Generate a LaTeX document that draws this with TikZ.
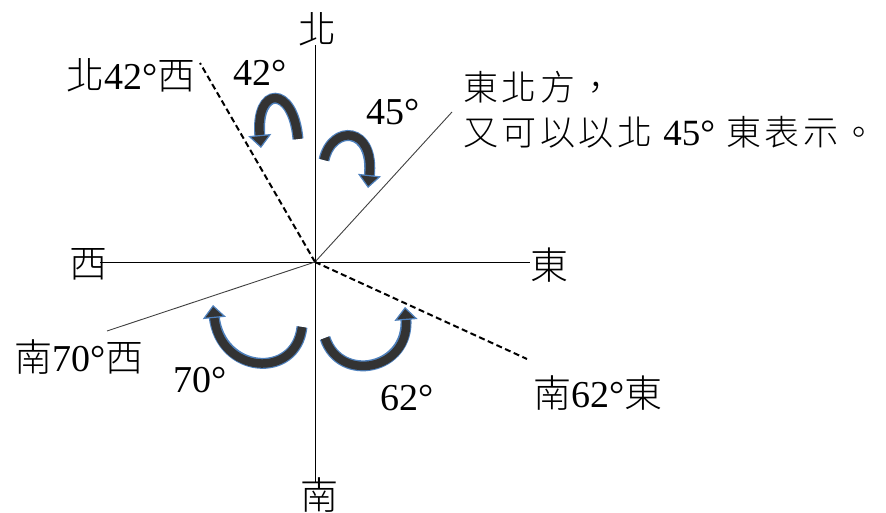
\documentclass[tikz,border=0pt]{standalone}
\usepackage{fontspec}
\setmainfont{Liberation Serif}
\newfontfamily\cjk[LetterSpace=22]{Noto Sans CJK TC Light}
\newfontfamily\cjknote[LetterSpace=10]{Noto Sans CJK TC Light}
\usetikzlibrary{arrows.meta}

\colorlet{turnfill}{black!80}
\definecolor{turnedge}{RGB}{79,129,189}

\tikzset{
  axis/.style={black, line width=1pt},
  ray/.style={black!75, line width=0.9pt},
  dashray/.style={black, line width=2pt, dash pattern=on 6pt off 3.5pt},
  turn/.style={turnfill, line width=8.5pt,
    -{Triangle[length=13pt,width=23pt,color=turnedge,fill=turnfill,line width=1.2pt]},
    preaction={draw=turnedge, line width=11pt, -, shorten >=11pt}},
}

\begin{document}
\begin{tikzpicture}[x=1pt, y=-1pt, every node/.style={inner sep=0pt, font=\fontsize{38}{40}\selectfont}]
\useasboundingbox (0,0) rectangle (886,513);

\coordinate (o) at (315,262);
\coordinate (ne) at (452,112);
\coordinate (nw) at (200,63);
\coordinate (sw) at (107,331);
\coordinate (se) at (527,359);

% compass axes
\node (n) at (317,29) {\cjk 北};
\node (s) at (319,495) {\cjk 南};
\node (w) at (88,264) {\cjk 西};
\node (e) at (549,265) {\cjk 東};
\draw[axis] (o) -- (315,45);
\draw[axis] (o) -- (315,482);
\draw[axis] (o) -- (100,262);
\draw[axis] (o) -- (530,262);

% directions
\draw[ray] (o) -- (ne);
\draw[dashray] (o) -- (nw);
\draw[ray] (o) -- (sw);
\draw[dashray] (o) -- (se);

\node (nwlab) at (131,75) {{\cjk 北}42°{\cjk 西}};
\node (swlab) at (79,357) {{\cjk 南}70°{\cjk 西}};
\node (selab) at (598,393) {{\cjk 南}62°{\cjk 東}};
\node (nelab) [anchor=west, align=left, font=\fontsize{35}{45}\selectfont] at (463,110)
  {\cjknote 東北方，\\ \cjknote 又可以以北 {\rmfamily\fontsize{37}{45}\selectfont 45°} 東表示。};

% angles
\node (a42) at (260,73) {42°};
\node (a45) at (393,112) {45°};
\node (a70) at (200,380) {70°};
\node (a62) at (407,398) {62°};

\draw[turn] (298,139) .. controls (293,84) and (255,86) .. (261,148);
\draw[turn] (324,160) .. controls (332,124) and (375,126) .. (368,188);
\draw[turn] (302,327) .. controls (296,380) and (220,374) .. (213,305);
\draw[turn] (325,338) .. controls (340,384) and (410,370) .. (405,307);
\end{tikzpicture}
\end{document}
